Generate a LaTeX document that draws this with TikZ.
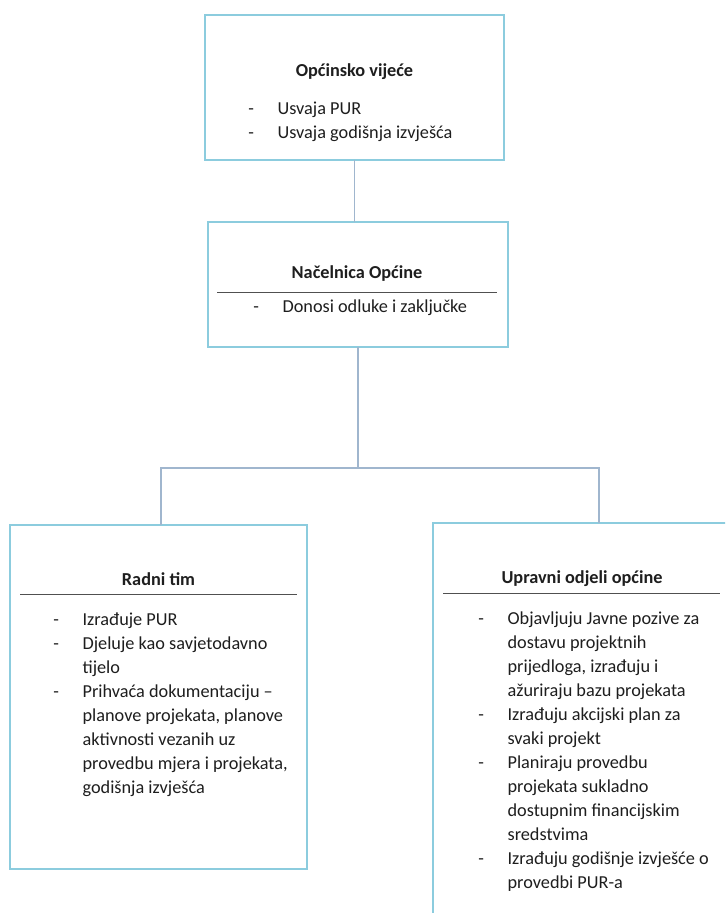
\documentclass[tikz,border=0pt]{standalone}
\usepackage{fontspec}
\setmainfont{Carlito}
\usetikzlibrary{positioning}

\definecolor{okvirplava}{RGB}{140,204,222}
\definecolor{vezasiva}{RGB}{160,182,206}
\definecolor{crtasiva}{RGB}{80,80,80}
\definecolor{tekstcrna}{RGB}{30,30,30}

\begin{document}
\begin{tikzpicture}[x=0.75pt, y=-0.75pt, font=\fontsize{13.7}{18}\selectfont]
\tikzstyle{okvir} = [draw=okvirplava, line width=0.9pt, fill=white, anchor=north west, inner sep=0pt, outer sep=0pt]
\tikzstyle{naslov} = [anchor=base, inner sep=0pt, text=tekstcrna, font=\fontsize{13.7}{18}\selectfont\bfseries]
\tikzstyle{popis} = [anchor=base west, inner sep=0pt, text=tekstcrna, align=left]
\tikzstyle{veza} = [draw=vezasiva, line width=0.9pt]
\tikzstyle{crta} = [draw=crtasiva, line width=0.6pt]
\useasboundingbox (0,0) rectangle (725,913);
\fill[white] (0,0) rectangle (725,913);
\clip (0,0) rectangle (725,913);
% okviri
\node[okvir, minimum width=224.25pt, minimum height=108.75pt] (vijece) at (205,15) {};
\node[okvir, minimum width=225pt, minimum height=93.75pt] (nacelnica) at (208,222) {};
\node[okvir, minimum width=222.75pt, minimum height=258pt] (radni) at (10,525) {};
\node[okvir, minimum width=223.5pt, minimum height=305.25pt] (upravni) at (433,523) {};
% veze
\coordinate (lijevo) at (161,468);
\coordinate (desno) at (599,468);
\draw[veza] (vijece.south) -- (vijece.south |- nacelnica.north);
\draw[veza] (nacelnica.south) -- (nacelnica.south |- lijevo);
\draw[veza] (radni.north -| lijevo) -- (lijevo) -- (desno) -- (desno |- upravni.north);
% Općinsko vijeće
\node[naslov] (vijece-naslov) at (354.5,77) {Općinsko vijeće};
\node[popis] (vijece-popis) at (248,115) {\begin{tabular}[t]{@{}p{22pt}@{}l@{}}
- & Usvaja PUR\\
- & Usvaja godišnja izvješća
\end{tabular}};
% Načelnica Općine
\node[naslov] (nacelnica-naslov) at (357,278) {Načelnica Općine};
\draw[crta] (217,292) -- (497,292);
\node[popis] (nacelnica-popis) at (253,312) {\begin{tabular}[t]{@{}p{22pt}@{}l@{}}
- & Donosi odluke i zaključke
\end{tabular}};
% Radni tim
\node[naslov] (radni-naslov) at (158.5,585) {Radni tim};
\draw[crta] (20,594) -- (297,594);
\node[popis] (radni-popis) at (53,625) {\begin{tabular}[t]{@{}p{22pt}@{}l@{}}
- & Izrađuje PUR\\
- & Djeluje kao savjetodavno\\
  & tijelo\\
- & Prihvaća dokumentaciju --\\
  & planove projekata, planove\\
  & aktivnosti vezanih uz\\
  & provedbu mjera i projekata,\\
  & godišnja izvješća
\end{tabular}};
% Upravni odjeli općine
\node[naslov] (upravni-naslov) at (582,583) {Upravni odjeli općine};
\draw[crta] (443,593) -- (720,593);
\node[popis] (upravni-popis) at (478,624) {\begin{tabular}[t]{@{}p{22pt}@{}l@{}}
- & Objavljuju Javne pozive za\\
  & dostavu projektnih\\
  & prijedloga, izrađuju i\\
  & ažuriraju bazu projekata\\
- & Izrađuju akcijski plan za\\
  & svaki projekt\\
- & Planiraju provedbu\\
  & projekata sukladno\\
  & dostupnim financijskim\\
  & sredstvima\\
- & Izrađuju godišnje izvješće o\\
  & provedbi PUR-a
\end{tabular}};
\end{tikzpicture}
\end{document}
